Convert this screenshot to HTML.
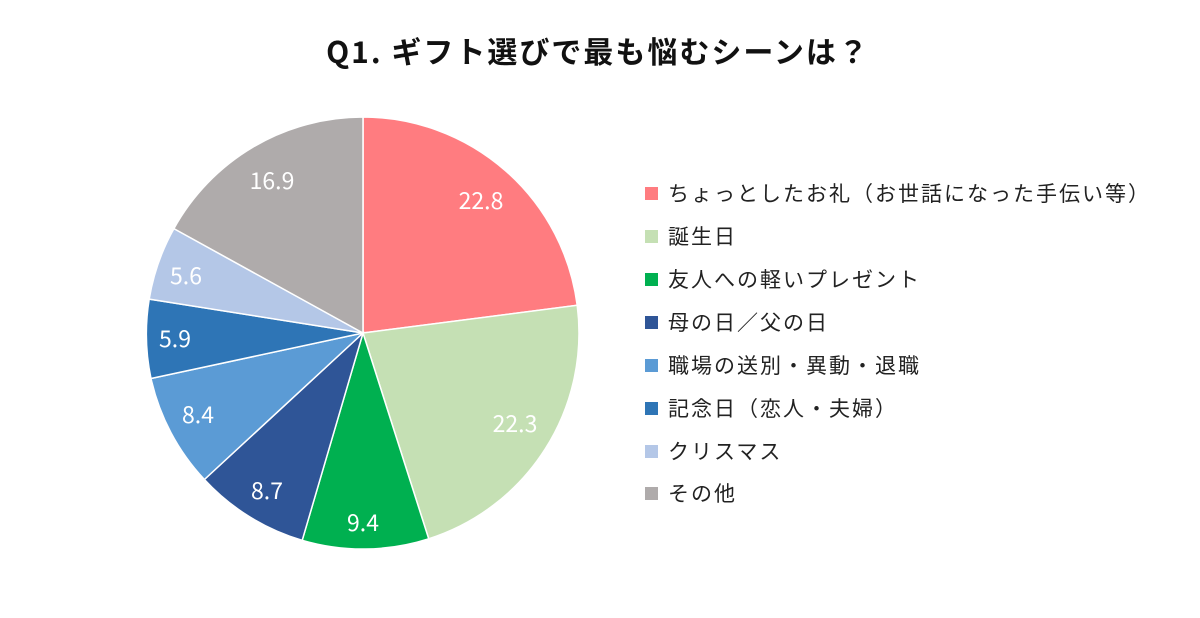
<!DOCTYPE html>
<html><head><meta charset="utf-8">
<style>
html,body{margin:0;padding:0;background:#fff;}
body{width:1200px;height:613px;overflow:hidden;font-family:"Noto Sans CJK JP","Liberation Sans",sans-serif;}
</style></head>
<body>
<svg width="1200" height="613" viewBox="0 0 1200 613" xmlns="http://www.w3.org/2000/svg">
<text x="598" y="63" text-anchor="middle" font-size="30" font-weight="bold" letter-spacing="2" fill="#111" font-family="Noto Sans CJK JP, Liberation Sans, sans-serif">Q1. ギフト選びで最も悩むシーンは？</text>
<g stroke="#fff" stroke-width="1.5">
<path d="M363,333 L363,117 A216,216 0 0,1 577.2,305.3 Z" fill="#FF7C80"/>
<path d="M363,333 L577.2,305.3 A216,216 0 0,1 428.7,538.8 Z" fill="#C5E0B4"/>
<path d="M363,333 L428.7,538.8 A216,216 0 0,1 302.2,540.3 Z" fill="#00B050"/>
<path d="M363,333 L302.2,540.3 A216,216 0 0,1 204.4,479.5 Z" fill="#2F5597"/>
<path d="M363,333 L204.4,479.5 A216,216 0 0,1 151.0,378.5 Z" fill="#5B9BD5"/>
<path d="M363,333 L151.0,378.5 A216,216 0 0,1 149.2,299.1 Z" fill="#2E75B6"/>
<path d="M363,333 L149.2,299.1 A216,216 0 0,1 173.9,228.6 Z" fill="#B4C7E7"/>
<path d="M363,333 L173.9,228.6 A216,216 0 0,1 363,117 Z" fill="#AFABAB"/>
</g>
<g font-size="23" fill="#fff" text-anchor="middle" font-family="Noto Sans CJK JP, Liberation Sans, sans-serif">
<text x="481" y="209">22.8</text>
<text x="515" y="432">22.3</text>
<text x="363" y="531">9.4</text>
<text x="267" y="499">8.7</text>
<text x="198" y="423">8.4</text>
<text x="175" y="347">5.9</text>
<text x="186" y="284">5.6</text>
<text x="272" y="189">16.9</text>
</g>
<g font-size="21" letter-spacing="2" fill="#222" font-family="Noto Sans CJK JP, Liberation Sans, sans-serif">
<rect x="645" y="187" width="13" height="13" fill="#FF7C80"/><text x="668" y="201">ちょっとしたお礼（お世話になった手伝い等）</text>
<rect x="645" y="230" width="13" height="13" fill="#C5E0B4"/><text x="668" y="244">誕生日</text>
<rect x="645" y="273" width="13" height="13" fill="#00B050"/><text x="668" y="287">友人への軽いプレゼント</text>
<rect x="645" y="316" width="13" height="13" fill="#2F5597"/><text x="668" y="330">母の日／父の日</text>
<rect x="645" y="359" width="13" height="13" fill="#5B9BD5"/><text x="668" y="373">職場の送別・異動・退職</text>
<rect x="645" y="402" width="13" height="13" fill="#2E75B6"/><text x="668" y="416">記念日（恋人・夫婦）</text>
<rect x="645" y="445" width="13" height="13" fill="#B4C7E7"/><text x="668" y="459">クリスマス</text>
<rect x="645" y="487" width="13" height="13" fill="#AFABAB"/><text x="668" y="501">その他</text>
</g>
</svg>
</body></html>
